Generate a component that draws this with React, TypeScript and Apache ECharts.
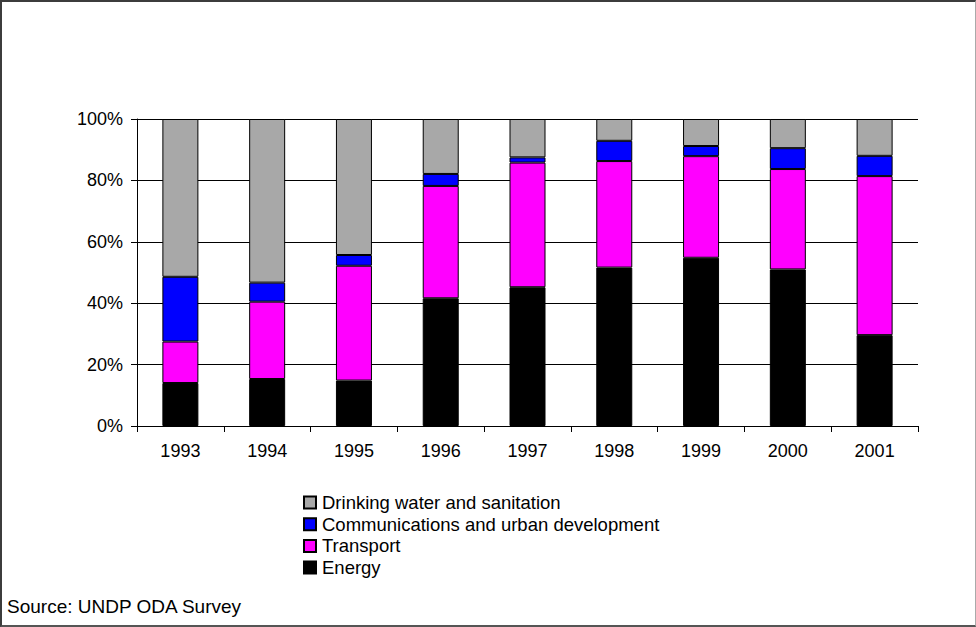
import React, { useEffect, useRef } from "react";
import * as echarts from "echarts";

const years = ["1993", "1994", "1995", "1996", "1997", "1998", "1999", "2000", "2001"];
const energy = [14, 15.3, 14.8, 41.6, 45.2, 51.6, 54.8, 51.0, 29.6];
const transport = [13.5, 25.2, 37.4, 36.6, 40.6, 34.7, 33.1, 32.7, 51.8];
const communications = [21.1, 6.2, 3.5, 3.9, 1.7, 6.6, 3.3, 6.8, 6.6];
const water = [51.4, 53.3, 44.3, 17.9, 12.5, 7.1, 8.8, 9.5, 12.0];
const yTicks = [0, 20, 40, 60, 80, 100];

const FONT = "'Liberation Sans', Arial, sans-serif";

export default function App() {
  const ref = useRef<HTMLDivElement>(null);
  useEffect(() => {
    if (!ref.current) return;
    const chart = echarts.init(ref.current, undefined, { renderer: "svg" });
    const mk = (name: string, data: number[], color: string) => ({
      name,
      type: "bar",
      stack: "total",
      data,
      barWidth: 36,
      itemStyle: { color, borderColor: "#000", borderWidth: 1 },
    });
    chart.setOption({
      animation: false,
      backgroundColor: "#ffffff",
      textStyle: { fontFamily: FONT, color: "#000" },
      grid: { left: 137, right: 58, top: 119, bottom: 201 },
      xAxis: {
        type: "category",
        data: years,
        axisLine: { lineStyle: { color: "#000", width: 1 } },
        axisTick: { show: true, alignWithLabel: false, length: 6, lineStyle: { color: "#000" } },
        axisLabel: { color: "#000", fontSize: 18, fontFamily: FONT, margin: 16 },
        splitLine: { show: false },
      },
      yAxis: {
        type: "value",
        min: yTicks[0],
        max: yTicks[yTicks.length - 1],
        interval: 20,
        axisLine: { show: true, lineStyle: { color: "#000", width: 1 } },
        axisTick: { show: true, length: 6, lineStyle: { color: "#000" } },
        axisLabel: { color: "#000", fontSize: 18, fontFamily: FONT, margin: 14, formatter: "{value}%" },
        splitLine: { show: true, lineStyle: { color: "#000", width: 1 } },
      },
      legend: {
        orient: "vertical",
        left: 298,
        top: 488,
        icon: "rect",
        itemWidth: 12,
        itemHeight: 12,
        itemGap: 2.7,
        textStyle: {
          fontSize: 18.5,
          lineHeight: 18,
          fontFamily: FONT,
          color: "#000",
          padding: [0, 0, 0, 1],
        },
        data: [
          "Drinking water and sanitation",
          "Communications and urban development",
          "Transport",
          "Energy",
        ],
      },
      graphic: [
        {
          type: "text",
          left: 7,
          top: 597,
          style: { text: "Source: UNDP ODA Survey", fontSize: 19, fontFamily: FONT, fill: "#000" },
        },
      ],
      series: [
        mk("Energy", energy, "#000000"),
        mk("Transport", transport, "#ff00ff"),
        mk("Communications and urban development", communications, "#0000ff"),
        mk("Drinking water and sanitation", water, "#a8a8a8"),
      ],
    });
    return () => chart.dispose();
  }, []);
  return (
    <div style={{ position: "fixed", left: 0, top: 0, width: 976, height: 627 }}>
      <div ref={ref} style={{ position: "absolute", left: 0, top: 0, width: 976, height: 627 }} />
      <div
        style={{
          position: "absolute",
          left: 0,
          top: 0,
          width: 976,
          height: 627,
          boxSizing: "border-box",
          borderTop: "2px solid #3c3c3c",
          borderLeft: "2px solid #3c3c3c",
          borderBottom: "2px solid #555",
          borderRight: "1px solid #aaa",
          pointerEvents: "none",
        }}
      />
    </div>
  );
}
